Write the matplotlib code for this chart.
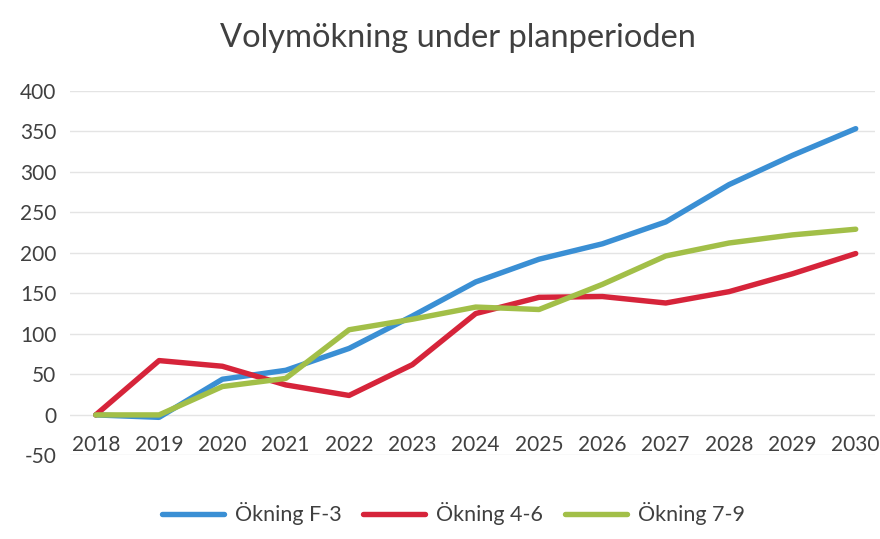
import matplotlib
matplotlib.use("Agg")
import matplotlib.pyplot as plt
from matplotlib.lines import Line2D

plt.rcParams['font.family'] = ['Lato', 'DejaVu Sans']

years = [2018, 2019, 2020, 2021, 2022, 2023, 2024, 2025, 2026, 2027, 2028, 2029, 2030]
okning_f3 = [0, -3, 44, 55, 82, 122, 164, 192, 211, 238, 284, 320, 353]
okning_46 = [0, 67, 60, 37, 24, 62, 125, 145, 146, 138, 152, 174, 199]
okning_79 = [0, 0, 35, 45, 105, 118, 133, 130, 161, 196, 212, 222, 229]
series_names = ["Ökning F-3", "Ökning 4-6", "Ökning 7-9"]
colors = ["#3a8fd4", "#d6243a", "#a2bf48"]
yticks = [-50, 0, 50, 100, 150, 200, 250, 300, 350, 400]

fig = plt.figure(figsize=(8.8, 5.39), dpi=100)
ax = fig.add_axes([0.08, 0.155, 0.914, 0.677])

for vals, c, name in zip([okning_f3, okning_46, okning_79], colors, series_names):
    ax.plot(years, vals, color=c, lw=3.9, solid_capstyle='round', label=name, zorder=3)

ax.set_ylim(-50, 400)
ax.set_xlim(2017.6, 2030.3)
ax.set_yticks(yticks)
ax.set_yticklabels([str(t) for t in yticks], fontsize=15, color="#404040")
ax.tick_params(axis='y', length=0, pad=10)
ax.set_xticks([])
for s in ax.spines.values():
    s.set_visible(False)
ax.grid(axis='y', color="#e4e4e4", lw=1.0, zorder=0)

for y in years:
    ax.text(y, -37, str(y), ha='center', va='center', fontsize=15, color="#404040")

fig.text(0.52, 0.93, "Volymökning under planperioden", ha='center', va='center',
         fontsize=23.5, color="#404040")

handles = [Line2D([0], [0], color=c, lw=3.9, solid_capstyle='round') for c in colors]
fig.legend(handles, series_names, loc='center', bbox_to_anchor=(0.515, 0.047), ncol=3,
           frameon=False, fontsize=15.5, handlelength=2.9, handletextpad=0.5,
           columnspacing=1.0, labelcolor="#404040")

fig.savefig("out.png", dpi=100, facecolor="white")
